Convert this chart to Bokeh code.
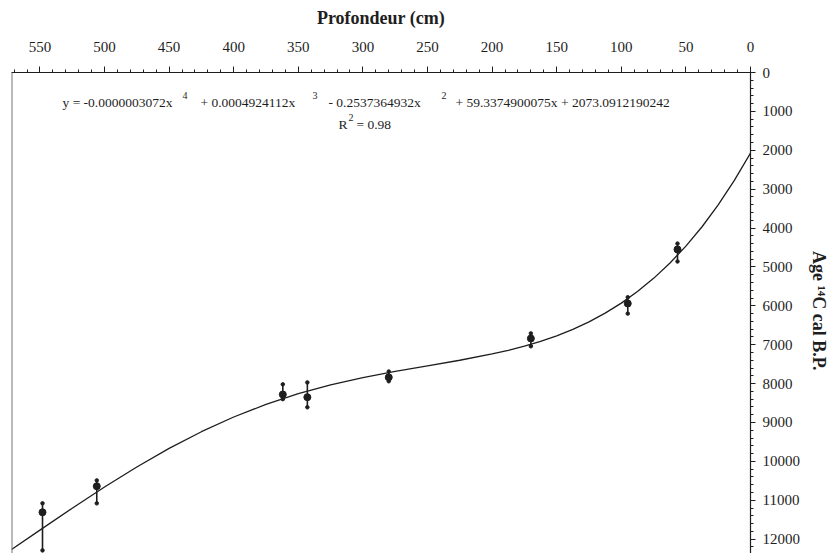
from bokeh.plotting import figure
from bokeh.models import Range1d, FixedTicker, Label, Span, ColumnDataSource
from bokeh.embed import file_html
from bokeh.resources import INLINE

# ---- data ----
depth_pts = [548, 506, 362, 343, 280, 170, 95, 56.5]
age_pts = [11310, 10640, 8280, 8350, 7840, 6840, 5940, 4550]
age_low = [11080, 10490, 8020, 7970, 7690, 6710, 5780, 4400]
age_high = [12290, 11080, 8400, 8610, 7940, 7040, 6200, 4860]

curve_depth = [0, 12.5, 25, 37.5, 50, 62.5, 75, 87.5, 100, 112.5, 125, 137.5,
               150, 162.5, 175, 187.5, 200, 225, 250, 275, 300, 325, 350, 375,
               400, 425, 450, 475, 500, 525, 550, 572]
curve_age = [2073, 2776, 3406, 3967, 4465, 4906, 5294, 5634, 5931, 6189, 6412,
             6605, 6771, 6914, 7037, 7145, 7239, 7400, 7544, 7686, 7845, 8033,
             8261, 8535, 8860, 9238, 9668, 10144, 10659, 11205, 11768, 12265]

x_ticks = [0, 50, 100, 150, 200, 250, 300, 350, 400, 450, 500, 550]
y_ticks = [0, 1000, 2000, 3000, 4000, 5000, 6000, 7000, 8000, 9000, 10000, 11000, 12000]

eq_parts = ["y = -0.0000003072x", "+ 0.0004924112x", "- 0.2537364932x",
            "+ 59.3374900075x + 2073.0912190242"]
eq_sups = ["4", "3", "2"]

FONT = "Liberation Serif"
INK = "#1e1e1e"

W, H = 835, 553
X_MAX, Y_MAX = 572, 12370
FL, FR, FT, FB = 11, 750, 72, 553   # frame edges in pixels


def dx(px):
    return (FR - px) * X_MAX / (FR - FL)


def dy(py):
    return (py - FT) * Y_MAX / (FB - FT)


p = figure(width=W, height=H, output_backend="svg", toolbar_location=None,
           x_range=Range1d(X_MAX, 0), y_range=Range1d(Y_MAX, 0),
           x_axis_location="above", y_axis_location="right",
           min_border_left=FL, min_border_top=FT,
           min_border_right=W - FR, min_border_bottom=0)
p.background_fill_color = "white"
p.border_fill_color = "white"
p.outline_line_color = None
p.grid.visible = False

# top axis
xa = p.xaxis[0]
xa.ticker = FixedTicker(ticks=x_ticks, minor_ticks=list(range(0, 580, 10)))
xa.major_label_text_font = FONT
xa.major_label_text_font_size = "15px"
xa.major_label_text_color = INK
xa.major_label_standoff = 15
xa.major_tick_in = 0
xa.major_tick_out = 6
xa.minor_tick_in = 0
xa.minor_tick_out = 3
xa.axis_line_color = INK
xa.major_tick_line_color = INK
xa.minor_tick_line_color = INK
xa.axis_line_width = 1.2
xa.axis_label = "Profondeur (cm)"
xa.axis_label_text_font = FONT
xa.axis_label_text_font_size = "18px"
xa.axis_label_text_font_style = "bold"
xa.axis_label_text_color = INK
xa.axis_label_standoff = 11

# right axis
ya = p.yaxis[0]
ya.ticker = FixedTicker(ticks=y_ticks, minor_ticks=list(range(0, 12400, 200)))
ya.major_label_text_font = FONT
ya.major_label_text_font_size = "15px"
ya.major_label_text_color = INK
ya.major_label_standoff = 7
ya.major_tick_in = 0
ya.major_tick_out = 5
ya.minor_tick_in = 0
ya.minor_tick_out = 3
ya.axis_line_color = INK
ya.major_tick_line_color = INK
ya.minor_tick_line_color = INK
ya.axis_line_width = 1.2
ya.axis_label = "Age \u00b9\u2074C  cal B.P."
ya.axis_label_text_font = FONT
ya.axis_label_text_font_size = "18px"
ya.axis_label_text_font_style = "bold"
ya.axis_label_text_color = INK
ya.axis_label_standoff = 6

# left border
p.add_layout(Span(location=X_MAX, dimension="height", line_color="#777777", line_width=2))

# curve
p.line(curve_depth, curve_age, line_color=INK, line_width=1.3)

# error bars and points
src = ColumnDataSource(dict(d=depth_pts, a=age_pts, lo=age_low, hi=age_high))
p.segment(x0="d", y0="lo", x1="d", y1="hi", source=src, line_color=INK, line_width=1.6)
p.scatter(x="d", y="lo", source=src, size=3.5, marker="circle", fill_color=INK, line_color=INK)
p.scatter(x="d", y="hi", source=src, size=3.5, marker="circle", fill_color=INK, line_color=INK)
p.scatter(x="d", y="a", source=src, size=7, marker="circle", fill_color=INK, line_color=INK)

# equation text
seg_x = [62, 200, 328, 455]
sup_x = [182, 312, 441]
for t, x in zip(eq_parts, seg_x):
    p.add_layout(Label(x=dx(x), y=dy(102), text=t, text_font=FONT, text_font_size="13.5px",
                       text_color=INK, text_align="left", text_baseline="alphabetic"))
for t, x in zip(eq_sups, sup_x):
    p.add_layout(Label(x=dx(x), y=dy(95), text=t, text_font=FONT, text_font_size="10px",
                       text_color=INK, text_align="left", text_baseline="alphabetic"))
p.add_layout(Label(x=dx(338), y=dy(124), text="R", text_font=FONT, text_font_size="13.5px",
                   text_color=INK, text_align="left", text_baseline="alphabetic"))
p.add_layout(Label(x=dx(348), y=dy(117), text="2", text_font=FONT, text_font_size="10px",
                   text_color=INK, text_align="left", text_baseline="alphabetic"))
p.add_layout(Label(x=dx(356), y=dy(124), text="= 0.98", text_font=FONT, text_font_size="13.5px",
                   text_color=INK, text_align="left", text_baseline="alphabetic"))

open("out.html", "w").write(file_html(p, INLINE))
